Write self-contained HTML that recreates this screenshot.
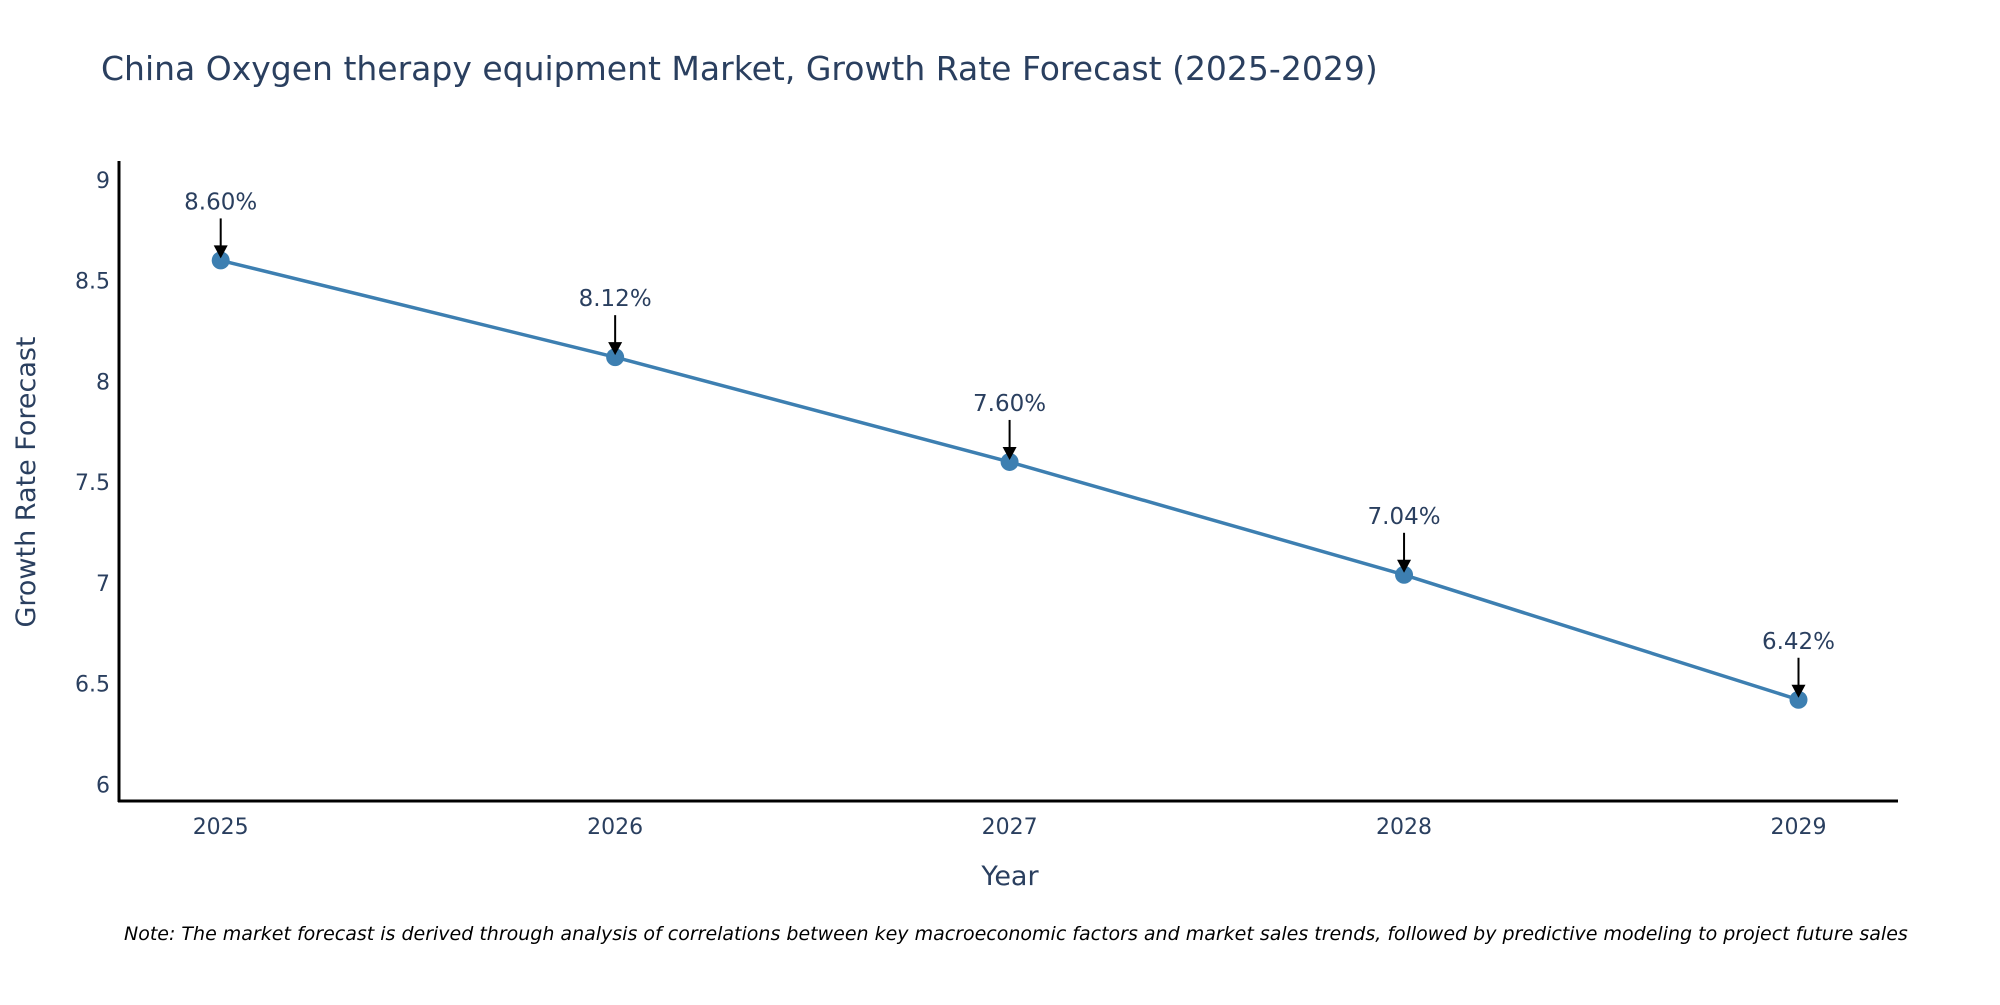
<!DOCTYPE html>
<html><head><meta charset="utf-8"><style>
body{margin:0;background:#fff;}
svg text{font-family:"DejaVu Sans","Liberation Sans",sans-serif;}
</style></head><body>
<svg id="chart" width="2000" height="1000" xmlns="http://www.w3.org/2000/svg">
<text x="101" y="80" font-size="33" fill="#2a3f5f">China Oxygen therapy equipment Market, Growth Rate Forecast (2025-2029)</text>
<g id="series"></g>
<line x1="119" y1="161" x2="119" y2="802" stroke="#000" stroke-width="3"/>
<line x1="118" y1="801" x2="1898" y2="801" stroke="#000" stroke-width="3"/>
<text x="1010" y="885" font-size="27" fill="#2a3f5f" text-anchor="middle">Year</text>
<text transform="translate(35,482) rotate(-90)" font-size="27" fill="#2a3f5f" text-anchor="middle">Growth Rate Forecast</text>
<text x="124" y="940" font-size="19" font-style="italic" fill="#000">Note: The market forecast is derived through analysis of correlations between key macroeconomic factors and market sales trends, followed by predictive modeling to project future sales</text>
</svg>
<script>
const years=["2025","2026","2027","2028","2029"];
const values=[8.60,8.12,7.60,7.04,6.42];
const yTicks=[6,6.5,7,7.5,8,8.5,9];
const NS="http://www.w3.org/2000/svg";
const svg=document.getElementById('chart');
const x=i=>220.7+i*(1798.5-220.7)/(years.length-1);
const y=v=>784.4-(v-6)*(784.4-179.8)/3;
function mk(t,a,p){const e=document.createElementNS(NS,t);for(const k in a)e.setAttribute(k,a[k]);(p||svg).appendChild(e);return e;}
const g=document.getElementById('series');
yTicks.forEach(v=>{const t=mk('text',{x:110,y:y(v)+8,'font-size':22,fill:'#2a3f5f','text-anchor':'end'});t.textContent=String(v);

});
years.forEach((yr,i)=>{const t=mk('text',{x:x(i),y:834,'font-size':22,fill:'#2a3f5f','text-anchor':'middle'});t.textContent=yr;

});
const line=mk('polyline',{points:values.map((v,i)=>x(i)+','+y(v)).join(' '),fill:'none',stroke:'#3d7fb1','stroke-width':3.5},g);


values.forEach((v,i)=>{
const c=mk('circle',{cx:x(i),cy:y(v),r:9,fill:'#3d7fb1'},g);


const a=mk('line',{x1:x(i),y1:y(v)-42,x2:x(i),y2:y(v)-12,stroke:'#000','stroke-width':2},g);


const h=mk('polygon',{points:(x(i)-7)+','+(y(v)-15)+' '+(x(i)+7)+','+(y(v)-15)+' '+x(i)+','+(y(v)-2),fill:'#000'},g);


const t=mk('text',{x:x(i),y:y(v)-51,'font-size':23,fill:'#2a3f5f','text-anchor':'middle'},g);
t.textContent=v.toFixed(2)+'%';


});
</script>
</body></html>
